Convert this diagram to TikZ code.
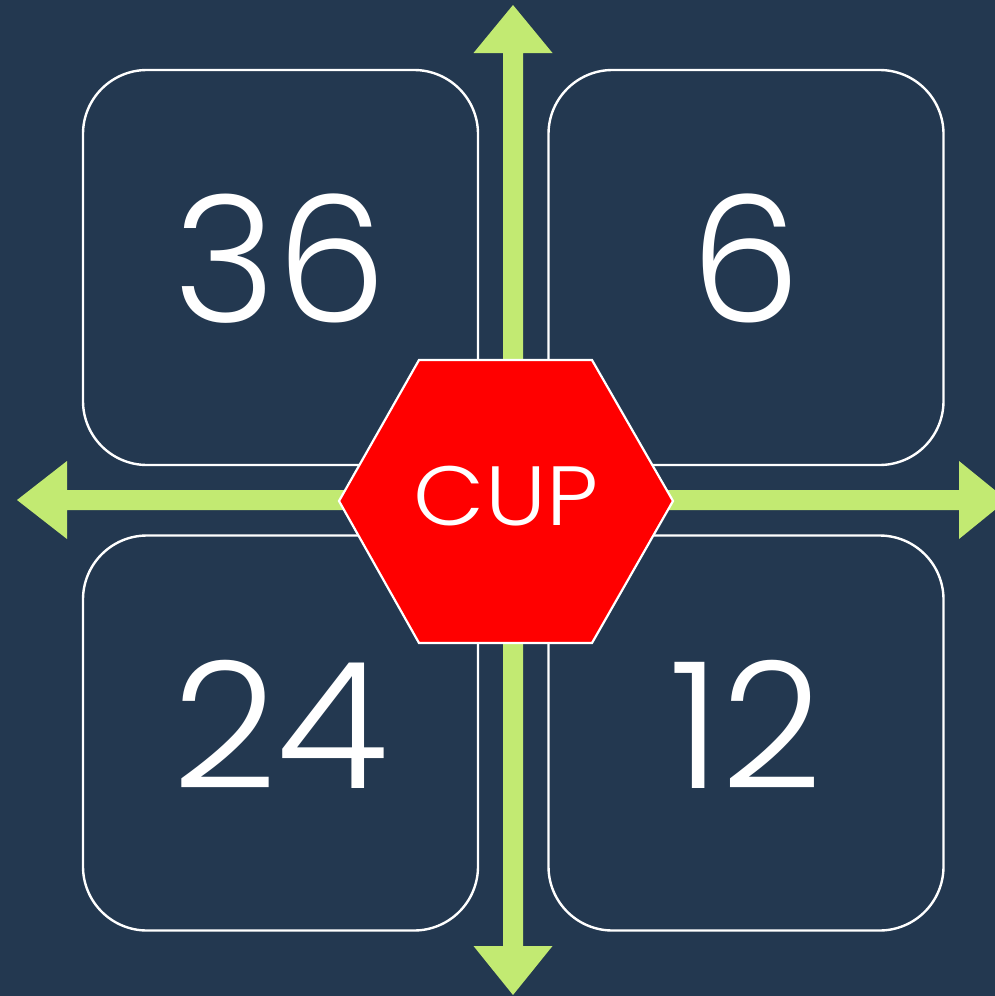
\documentclass[tikz,border=0pt]{standalone}
\usepackage{fontspec}
\setmainfont{Poppins}
\newfontfamily\numfont{Poppins}[UprightFont=* Light]
\definecolor{bg}{HTML}{233850}
\definecolor{arrowgreen}{HTML}{C2EA72}
\definecolor{cupred}{HTML}{FF0000}
\begin{document}
\begin{tikzpicture}[x=1pt,y=-1pt,
  card/.style={draw=white, line width=2.4pt, rounded corners=64pt, minimum width=395pt, minimum height=395pt, inner sep=0pt},
  num/.style={text=white, font=\numfont\fontsize{176}{176}\selectfont, inner sep=0pt},
  cuptext/.style={text=white, font=\numfont\fontsize{84}{84}\selectfont, inner sep=0pt, xscale=1.1},
  arrowfill/.style={fill=arrowgreen, draw=none},
  hexfill/.style={fill=cupred, draw=white, line width=2.2pt, line join=miter}]
\useasboundingbox (0,0) rectangle (995,996);
\clip (0,0) rectangle (995,996);
\fill[bg] (0,0) rectangle (995,996);
% cards
\node[card] (tl) at (280.5,267.5) {};
\node[card] (tr) at (746,267.5) {};
\node[card] (bl) at (280.5,733) {};
\node[card] (br) at (746,733) {};
% numbers
\node[num, yshift=9pt] (ntl) at (tl.center) {36};
\node[num, yshift=9pt] (ntr) at (tr.center) {6};
\node[num, yshift=9pt, xscale=1.04] (nbl) at (bl.center) {24};
\node[num, yshift=9pt] (nbr) at (br.center) {12};
% arrows
\fill[arrowfill] (513,5) -- (552.5,53) -- (523,53) -- (523,946) -- (552.5,946) -- (513,995)
  -- (473.5,946) -- (503,946) -- (503,53) -- (473.5,53) -- cycle;
\fill[arrowfill] (17,500) -- (67,461) -- (67,490) -- (959,490) -- (959,461) -- (1007,500)
  -- (959,539) -- (959,510) -- (67,510) -- (67,539) -- cycle;
% hexagon
\draw[hexfill] (339,501) -- (419,360) -- (592,360) -- (673,501) -- (592,643) -- (419,643) -- cycle;
\node[cuptext] (cup) at (506,496) {CUP};
\end{tikzpicture}
\end{document}
